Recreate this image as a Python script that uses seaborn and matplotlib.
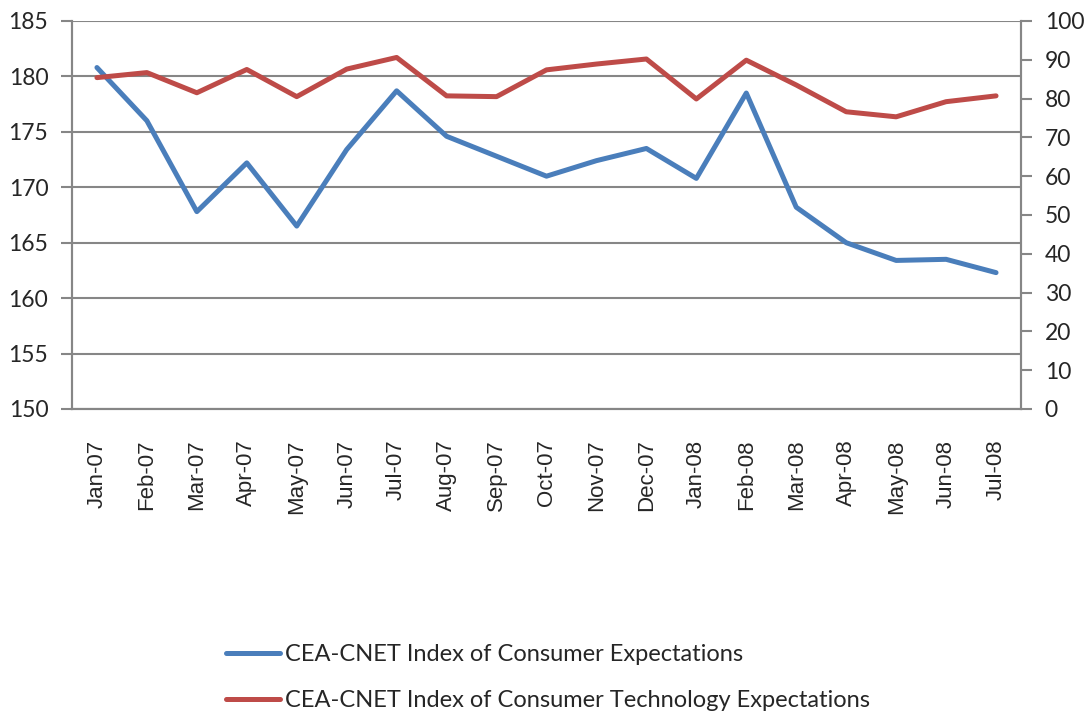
import pandas as pd
import matplotlib
matplotlib.use("Agg")
import matplotlib.pyplot as plt
import seaborn as sns

# values
months = ["Jan-07", "Feb-07", "Mar-07", "Apr-07", "May-07", "Jun-07", "Jul-07",
          "Aug-07", "Sep-07", "Oct-07", "Nov-07", "Dec-07", "Jan-08", "Feb-08",
          "Mar-08", "Apr-08", "May-08", "Jun-08", "Jul-08"]
consumer = [180.8, 176.0, 167.8, 172.2, 166.5, 173.4, 178.7, 174.6, 172.8, 171.0,
            172.4, 173.5, 170.8, 178.5, 168.2, 165.0, 163.4, 163.5, 162.3]
tech = [85.4, 86.7, 81.5, 87.5, 80.5, 87.6, 90.6, 80.7, 80.5, 87.4,
        88.9, 90.2, 79.9, 89.9, 83.5, 76.6, 75.3, 79.2, 80.7]

left_ticks = list(range(150, 190, 5))
right_ticks = list(range(0, 110, 10))

blue = "#4A7EBB"
red = "#BE4B48"
grid_c = "#868686"

df = pd.DataFrame({"pos": range(len(months)), "month": months,
                   "consumer": consumer, "tech": tech})

sns.set_style("white")
plt.rcParams["font.family"] = ["Lato", "DejaVu Sans"]

fig = plt.figure(figsize=(10.87, 7.16), dpi=100)
ax = fig.add_axes([0.0662, 0.4288, 0.8731, 0.5419])
ax2 = ax.twinx()

sns.lineplot(data=df, x="pos", y="consumer", ax=ax, color=blue, linewidth=3.6,
             label="CEA-CNET Index of Consumer Expectations", legend=False)
sns.lineplot(data=df, x="pos", y="tech", ax=ax2, color=red, linewidth=3.6,
             label="CEA-CNET Index of Consumer Technology Expectations", legend=False)

ax.set_xlim(-0.5, len(months) - 0.5)
ax.set_ylim(150, 185)
ax2.set_ylim(0, 100)
ax.set_yticks(left_ticks)
ax2.set_yticks(right_ticks)
ax.yaxis.grid(True, color=grid_c, linewidth=1.5)
ax.set_axisbelow(True)

ax.set_xticks(range(len(months)))
ax.set_xticklabels(months, rotation=90, fontsize=16, family="Liberation Sans")
ax.set_xticks([i - 0.5 for i in range(len(months) + 1)], minor=True)
ax.tick_params(axis="x", which="major", length=0, pad=22)
ax.tick_params(axis="x", which="minor", length=7, width=1.5, color=grid_c, direction="out")
ax.tick_params(axis="y", length=8, width=1.5, color=grid_c, labelsize=16.5, pad=9)
ax2.tick_params(axis="y", length=8, width=1.5, color=grid_c, labelsize=16.5, pad=9)

ax.set_xlabel("")
ax.set_ylabel("")
ax2.set_ylabel("")
for a in (ax, ax2):
    a.spines["top"].set_visible(False)
    for side in ("left", "right", "bottom"):
        a.spines[side].set_color(grid_c)
        a.spines[side].set_linewidth(1.5)

h1, l1 = ax.get_legend_handles_labels()
h2, l2 = ax2.get_legend_handles_labels()
fig.legend(h1 + h2, l1 + l2, loc="upper left", bbox_to_anchor=(0.188, 0.13),
           frameon=False, fontsize=17, handlelength=2.3, labelspacing=1.05,
           handletextpad=0.2)

fig.savefig("out.png", dpi=100)
